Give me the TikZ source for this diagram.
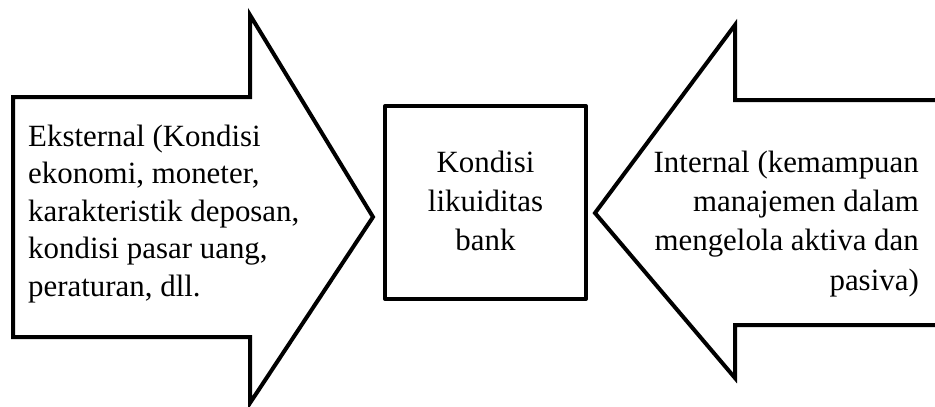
\documentclass[tikz,border=0pt]{standalone}
\usepackage{fontspec}
\setmainfont{Liberation Serif}
\begin{document}
\begin{tikzpicture}[x=1pt,y=-1pt,
  outline/.style={draw=black,line width=4pt,fill=white},
  label/.style={inner sep=0pt,font=\fontsize{30.9}{37.5}\selectfont}]
\useasboundingbox (0,0) rectangle (935,407);
\clip (0,0) rectangle (935,407);
% left block arrow pointing right
\draw[outline] (13,97) -- (250,97) -- (250,15) -- (373,217) -- (250,403)
  -- (250,337) -- (13,337) -- cycle;
% right block arrow pointing left, running off the edge
\draw[outline] (950,100) -- (735,100) -- (735,25) -- (595,213) -- (735,378)
  -- (735,325) -- (950,325) -- cycle;
% central box
\draw[outline,line join=round] (385,106) rectangle (586,299);
\node[label,anchor=north west,align=left] (ext) at (28,124.5)
  {Eksternal (Kondisi\\ekonomi, moneter,\\karakteristik deposan,\\kondisi pasar uang,\\peraturan, dll.};
\node[label,anchor=north,align=center,font=\fontsize{30.9}{39}\selectfont] (bank) at (485.5,151)
  {Kondisi\\likuiditas\\bank};
\node[label,anchor=north east,align=right,font=\fontsize{30.9}{39.3}\selectfont] (int) at (919,150.5)
  {Internal (kemampuan\\manajemen dalam\\mengelola aktiva dan\\pasiva)};
\end{tikzpicture}
\end{document}
